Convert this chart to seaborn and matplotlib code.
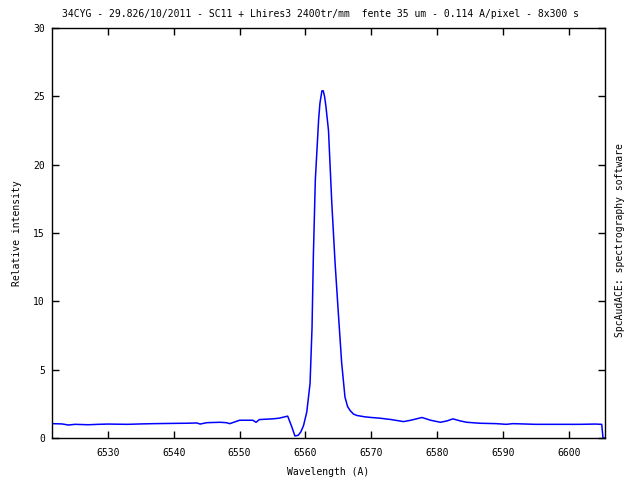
import matplotlib
matplotlib.use('Agg')
import matplotlib.pyplot as plt
import seaborn as sns
import pandas as pd

# -----------------------------
# DATA
# -----------------------------
wavelength = [6521.5, 6523, 6524, 6525, 6527, 6528.5, 6530, 6533, 6535, 6537,
              6540, 6542, 6543.5, 6544, 6545, 6547, 6548, 6548.5, 6550, 6552,
              6552.5, 6553, 6555, 6556, 6557.3, 6557.9, 6558.4, 6558.9, 6559.3, 6559.7,
              6560.2, 6560.7, 6561.0, 6561.2, 6561.5, 6562.0, 6562.2, 6562.5, 6562.7, 6562.9,
              6563.1, 6563.5, 6564.0, 6564.5, 6565.0, 6565.5, 6566.0, 6566.4, 6566.8, 6567.3,
              6567.8, 6569, 6570, 6571.3, 6573, 6574.9, 6576, 6577.7, 6579, 6580.5,
              6581.5, 6582.4, 6583.5, 6584.5, 6586.5, 6589, 6590.5, 6591.5, 6595, 6598,
              6601.7, 6604, 6605.0, 6605.2, 6605.5]
intensity = [1.05, 1.03, 0.95, 1.0, 0.97, 1.0, 1.02, 1.0, 1.03, 1.05,
             1.07, 1.08, 1.1, 1.02, 1.12, 1.15, 1.12, 1.05, 1.3, 1.3,
             1.15, 1.35, 1.4, 1.45, 1.6, 0.85, 0.15, 0.2, 0.45, 0.9,
             1.9, 4.0, 8.1, 13.3, 18.9, 23.3, 24.5, 25.4, 25.4, 25.0,
             24.3, 22.5, 17.2, 12.8, 9.1, 5.5, 3.0, 2.3, 2.0, 1.75,
             1.65, 1.55, 1.5, 1.45, 1.35, 1.2, 1.3, 1.5, 1.3, 1.15,
             1.25, 1.4, 1.25, 1.15, 1.08, 1.05, 1.0, 1.05, 1.0, 1.0,
             1.0, 1.02, 1.0, 0.0, 0.0]
x_ticks = [6530, 6540, 6550, 6560, 6570, 6580, 6590, 6600]
y_ticks = [0, 5, 10, 15, 20, 25, 30]

title = '34CYG - 29.826/10/2011 - SC11 + Lhires3 2400tr/mm  fente 35 um - 0.114 A/pixel - 8x300 s'

df = pd.DataFrame({'wavelength': wavelength, 'intensity': intensity})

# -----------------------------
# PLOT
# -----------------------------
sns.set_style('ticks')
plt.rcParams['font.family'] = ['DejaVu Sans Mono']
plt.rcParams['font.size'] = 7
plt.rcParams['text.color'] = 'black'
plt.rcParams['axes.labelcolor'] = 'black'

fig = plt.figure(figsize=(6.4, 4.8), dpi=100)
ax = fig.add_axes([52 / 640, 1 - 438 / 480, (605 - 52) / 640, (438 - 28) / 480])

sns.lineplot(data=df, x='wavelength', y='intensity', color='#0000ff',
             linewidth=1.1, estimator=None, sort=False, ax=ax)

ax.set_xlim(6521.5, 6605.5)
ax.set_ylim(0, 30)
ax.set_xticks(x_ticks)
ax.set_yticks(y_ticks)
ax.tick_params(direction='in', length=5, width=1, top=True, right=True,
               labeltop=False, labelright=False, labelsize=7, colors='black')
ax.tick_params(axis='x', pad=7)
ax.tick_params(axis='y', pad=5)
for s in ax.spines.values():
    s.set_visible(True)
    s.set_linewidth(1)
    s.set_color('black')

ax.set_xlabel('Wavelength (A)', fontsize=7, labelpad=7)
ax.set_ylabel('Relative intensity', fontsize=7, labelpad=8)
fig.text(0.5, 0.971, title, ha='center', va='center', fontsize=7)
fig.text(0.969, 0.5, 'SpcAudACE: spectrography software', rotation=90,
         ha='center', va='center', fontsize=7)

fig.savefig('out.png', dpi=100)
